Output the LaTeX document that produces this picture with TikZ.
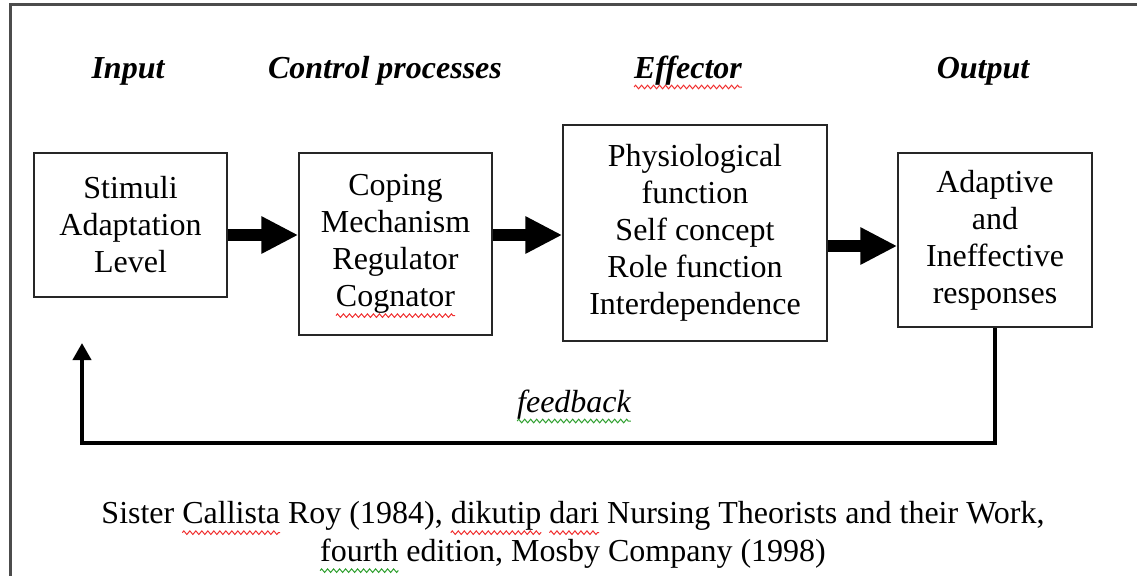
\documentclass[tikz,border=0pt]{standalone}
\usepackage{fontspec}
\setmainfont{Liberation Serif}
\usetikzlibrary{arrows.meta,decorations.pathmorphing}
\definecolor{wavered}{HTML}{F03030}
\definecolor{wavegreen}{HTML}{30A030}
\newsavebox\wvbox
\newcommand\wv[2]{\leavevmode\sbox\wvbox{#2}\rlap{\tikz[overlay]\draw[#1, line width=0.5pt, decorate,
  decoration={zigzag, segment length=3pt, amplitude=0.9pt}] (0pt,-4.5pt) -- (\wd\wvbox,-4.5pt);}\usebox\wvbox}
\tikzset{
  boxnode/.style={draw=black!85, line width=0.75pt, inner sep=0pt, align=center,
    font=\fontsize{16}{18.5}\selectfont},
  headnode/.style={anchor=base, inner sep=0pt, font=\fontsize{16}{18.5}\selectfont\bfseries\itshape},
  bigarr/.style={line width=6pt, -{Triangle[length=18.5pt,width=17.5pt]}},
  fbarr/.style={line width=2pt, line join=miter, -{Triangle[length=8.5pt,width=9pt]}},
  frameline/.style={draw=black!70, line width=1.2pt}
}
\begin{document}
\begin{tikzpicture}[x=0.5pt,y=-0.5pt]
\useasboundingbox (0,0) rectangle (1137,575);
\clip (0,0) rectangle (1137,575);
\draw[frameline] (10.5,4.5) rectangle (1160,600);
% headings
\node[headnode] (hin) at (128,78) {Input};
\node[headnode] (hcp) at (385,78) {Control processes};
\node[headnode] (hef) at (688,78) {\wv{wavered}{Effector}};
\node[headnode] (hout) at (983,78) {Output};
% boxes
\node[boxnode, minimum width=96.5pt, minimum height=72pt] (b1) at (130.5,225) {Stimuli\\Adaptation\\Level};
\node[boxnode, minimum width=96.5pt, minimum height=91pt] (b2) at (395.5,244) {Coping\\Mechanism\\Regulator\\\wv{wavered}{Cognator}};
\node[boxnode, minimum width=132pt, minimum height=108pt] (b3) at (695,233) {Physiological\\function\\Self concept\\Role function\\Interdependence};
\node[boxnode, minimum width=97pt, minimum height=87pt] (b4) at (995,240) {Adaptive\\and\\Ineffective\\responses};
% arrows
\coordinate (ya) at (0,235);
\coordinate (yb) at (0,246);
\draw[bigarr] (b1.east |- ya) -- (b2.west |- ya);
\draw[bigarr] (b2.east |- ya) -- (b3.west |- ya);
\draw[bigarr] (b3.east |- yb) -- (b4.west |- yb);
% feedback
\coordinate (fbl) at (82,443);
\coordinate (fbt) at (82,343);
\draw[fbarr] (b4.south) |- (fbl) -- (fbt);
\node[anchor=base, inner sep=0pt, font=\fontsize{16}{18.5}\selectfont\itshape] (fb) at (574,412) {\wv{wavegreen}{feedback}};
% citation
\node[align=center, inner sep=0pt, font=\fontsize{16}{19}\selectfont] (cit) at (573,535)
  {Sister \wv{wavered}{Callista} Roy (1984), \wv{wavered}{dikutip} \wv{wavered}{dari} Nursing Theorists and their Work,\\
   \wv{wavegreen}{fourth} edition, Mosby Company (1998)};
\end{tikzpicture}
\end{document}
